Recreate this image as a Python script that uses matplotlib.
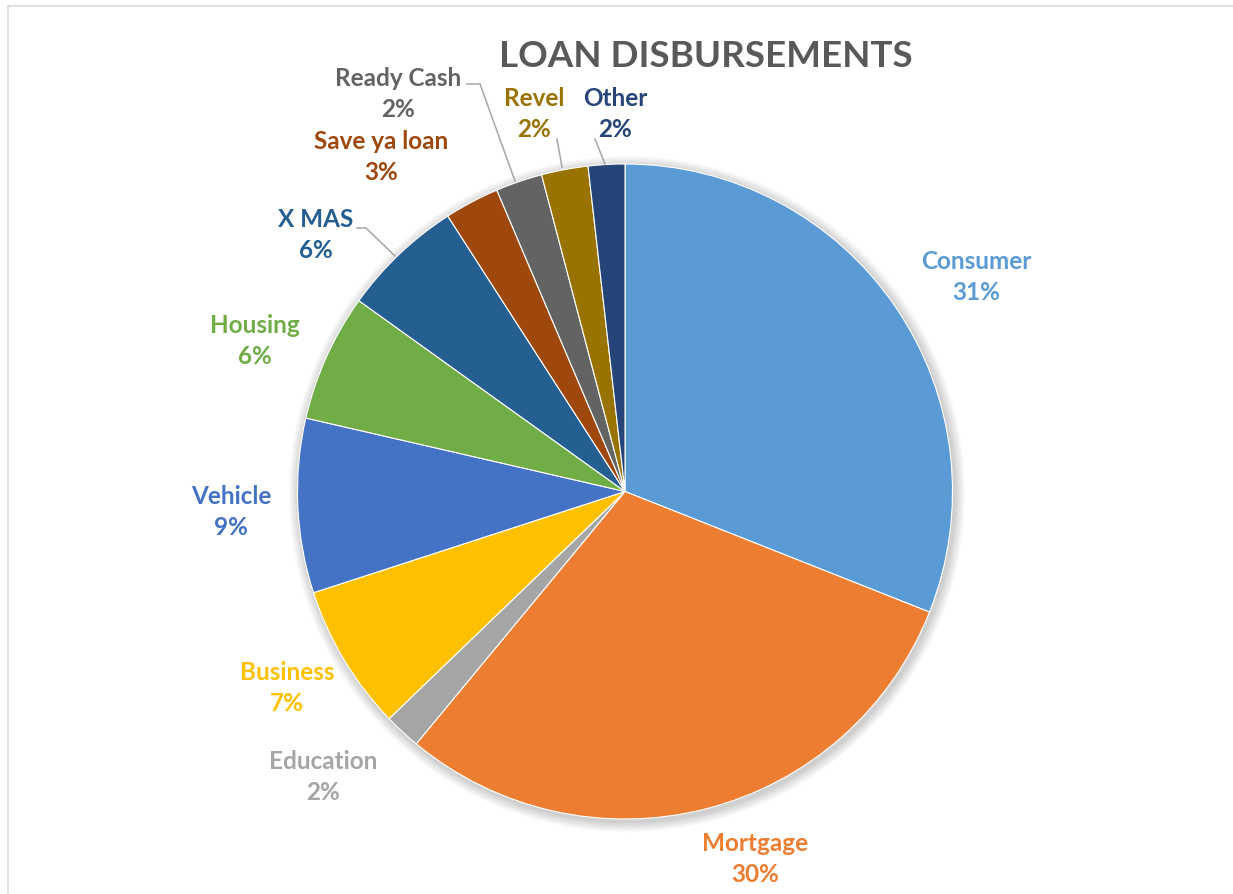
import matplotlib
matplotlib.use("Agg")
import matplotlib.pyplot as plt
from matplotlib.patches import Circle, Rectangle

plt.rcParams['font.family'] = ['Lato', 'DejaVu Sans']

# Loan disbursement shares (percent), clockwise from 12 o'clock
categories = ["Consumer", "Mortgage", "Education", "Business", "Vehicle",
              "Housing", "X MAS", "Save ya loan", "Ready Cash", "Revel", "Other"]
shares = [31.0, 30.0, 1.8, 7.2, 8.6, 6.3, 6.0, 2.7, 2.3, 2.3, 1.8]
colors = ["#5B9BD5", "#ED7D31", "#A5A5A5", "#FFC000", "#4472C4",
          "#70AD47", "#255E91", "#9E480E", "#636363", "#997300", "#264478"]
title = "LOAN DISBURSEMENTS"

W, H = 1233, 895
CX, CY, R = 625.0, 492.5, 327.5


def to_data(px, py):
    return (px - CX) / R, (CY - py) / R


# Label block centres (pixel space) for each slice
label_px = [(976, 277), (755, 859), (323, 777), (287, 688), (231, 512),
            (255, 341), (316, 235), (381, 157), (398, 94), (534, 114), (615, 114)]

# Leader lines for the labels sitting away from their slices
leaders = {
    "X MAS": [(357, 229), (366, 229), (395, 257)],
    "Ready Cash": [(467, 85), (480, 85), (515, 182)],
    "Revel": [(557, 140), (562, 168)],
    "Other": [(595, 140), (605, 165)],
}

fig = plt.figure(figsize=(W / 100, H / 100), dpi=100)
ax = fig.add_axes([0, 0, 1, 1])
x0, y0 = to_data(0, H)
x1, y1 = to_data(W, 0)

# soft shadow under the pie
for i in range(8):
    ax.add_patch(Circle((0.006, -0.008), 1.0 + 0.004 * (i + 1), color="#000000",
                        alpha=0.025, linewidth=0, zorder=1))

ax.pie(shares, colors=colors, startangle=90, counterclock=False, radius=1.0,
       center=(0, 0), frame=True,
       wedgeprops=dict(edgecolor="white", linewidth=0.8, zorder=2))
ax.set_xlim(x0, x1)
ax.set_ylim(y0, y1)
ax.set_aspect('equal')
ax.axis('off')

# chart frame
fx, fy = to_data(8, 7)
ax.add_patch(Rectangle((fx, y0 - 1), x1 - fx + 1, fy - y0 + 1, fill=False,
                       edgecolor="#D9D9D9", linewidth=1.2, zorder=0))

for name, val, col, (px, py) in zip(categories, shares, colors, label_px):
    x, y = to_data(px, py)
    ax.text(x, y, f"{name}\n{val:.0f}%", color=col, fontsize=17.5, fontweight='bold',
            ha='center', va='center', linespacing=1.4, zorder=5)

for name, pts in leaders.items():
    xs, ys = zip(*[to_data(px, py) for px, py in pts])
    ax.plot(xs, ys, color="#A6A6A6", linewidth=1.1, zorder=4)

tx, ty = to_data(706, 57)
ax.text(tx, ty, title, color="#595959", fontsize=26.5, fontweight='bold',
        ha='center', va='center', zorder=5)

fig.savefig("out.png", dpi=100)
